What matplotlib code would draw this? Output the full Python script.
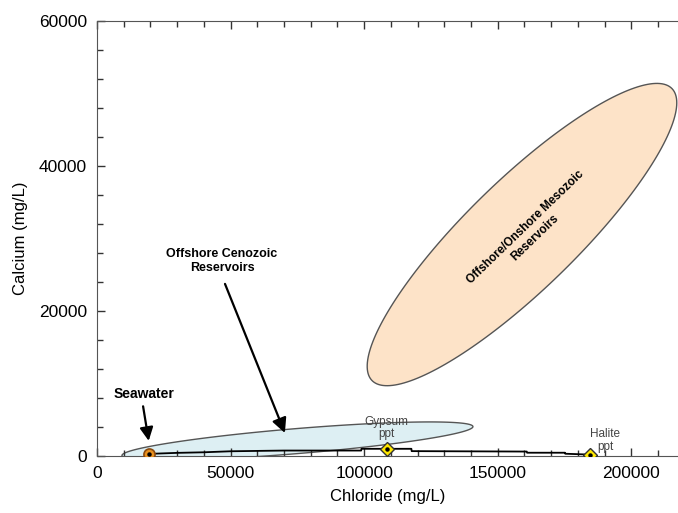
import numpy as np
import matplotlib
matplotlib.use('Agg')
import matplotlib.pyplot as plt
from matplotlib.patches import Polygon
from matplotlib.ticker import MultipleLocator

plt.rcParams['font.family'] = ['Liberation Sans', 'DejaVu Sans']

# evaporation path of seawater (chloride, calcium in mg/L)
path_cl = [19400, 30000, 40000, 50000, 70000, 98900, 99000, 117700, 117800,
           160900, 161000, 175200, 175300, 184600]
path_ca = [300, 440, 520, 660, 760, 760, 1000, 1000, 680,
           620, 460, 460, 320, 200]

# reference points
seawater = (19400, 300)
gypsum = (108600, 950)
halite = (184600, 200)

# fields as ellipses: centre, semi-axis vector a, conjugate semi-axis vector b
meso_c, meso_a, meso_b = (159100, 30550), (56150, 20130), (14300, -5420)
ceno_c, ceno_a, ceno_b = (75050, 2070), (65690, 2000), (385, -1718)


def ellipse_pts(c, a, b, n=200):
    t = np.linspace(0, 2 * np.pi, n)
    x = c[0] + a[0] * np.cos(t) + b[0] * np.sin(t)
    y = c[1] + a[1] * np.cos(t) + b[1] * np.sin(t)
    return np.column_stack([x, y])


fig = plt.figure(figsize=(6.78, 5.13), dpi=100)
ax = fig.add_axes([0.143, 0.111, 0.857, 0.848])

ax.add_patch(Polygon(ellipse_pts(meso_c, meso_a, meso_b), closed=True,
                     facecolor='#fde3c8', edgecolor='#555555', lw=1.0, zorder=1))
ax.add_patch(Polygon(ellipse_pts(ceno_c, ceno_a, ceno_b), closed=True,
                     facecolor='#ddeff3', edgecolor='#555555', lw=1.0, zorder=1))

ax.plot(path_cl, path_ca, color='black', lw=1.3, zorder=3)

ax.plot(*seawater, marker='o', ms=8, mfc='#e8901e', mec='#8a4a10', mew=1.2, zorder=4)
ax.plot(*seawater, marker='o', ms=2.2, color='black', zorder=5)
for p in (gypsum, halite):
    ax.plot(*p, marker='D', ms=7.5, mfc='#ffe800', mec='#333333', mew=1.0, zorder=4)
    ax.plot(*p, marker='o', ms=2.2, color='black', zorder=5)

# labels and arrows
ax.text(17600, 8620, 'Seawater', fontsize=10, fontweight='bold',
        ha='center', va='center')
ax.annotate('', xy=(19540, 1720), xytext=(17100, 7240),
            arrowprops=dict(arrowstyle='-|>', color='black', lw=1.6,
                            mutation_scale=20))
ax.text(46790, 26890, 'Offshore Cenozoic\nReservoirs', fontsize=9,
        fontweight='bold', ha='center', va='center', linespacing=1.15)
ax.annotate('', xy=(70740, 2830), xytext=(47540, 24100),
            arrowprops=dict(arrowstyle='-|>', color='black', lw=1.6,
                            mutation_scale=22))
ax.text(162100, 30820, 'Offshore/Onshore Mesozoic\nReservoirs', fontsize=8.5,
        fontweight='bold', ha='center', va='center', rotation=44,
        rotation_mode='anchor', linespacing=1.2)
ax.text(108200, 3930, 'Gypsum\nppt', fontsize=8.5, color='#444444',
        ha='center', va='center', linespacing=1.0)
ax.text(190300, 2140, 'Halite\nppt', fontsize=8.5, color='#444444',
        ha='center', va='center', linespacing=1.15)

ax.set_xlim(0, 217500)
ax.set_ylim(0, 60000)
ax.xaxis.set_major_locator(MultipleLocator(50000))
ax.xaxis.set_minor_locator(MultipleLocator(10000))
ax.yaxis.set_major_locator(MultipleLocator(20000))
ax.yaxis.set_minor_locator(MultipleLocator(4000))
ax.tick_params(which='both', direction='in', top=True, right=False,
               colors='#333333', labelcolor='black', labelsize=12.5, pad=7)
ax.tick_params(which='major', length=6, width=1)
ax.tick_params(which='minor', length=4, width=1)
ax.spines['right'].set_visible(False)
for s in ('left', 'top', 'bottom'):
    ax.spines[s].set_color('#555555')

ax.set_xlabel('Chloride (mg/L)', fontsize=12, labelpad=6)
ax.set_ylabel('Calcium (mg/L)', fontsize=12, labelpad=8)

fig.savefig('out.png', dpi=100)
